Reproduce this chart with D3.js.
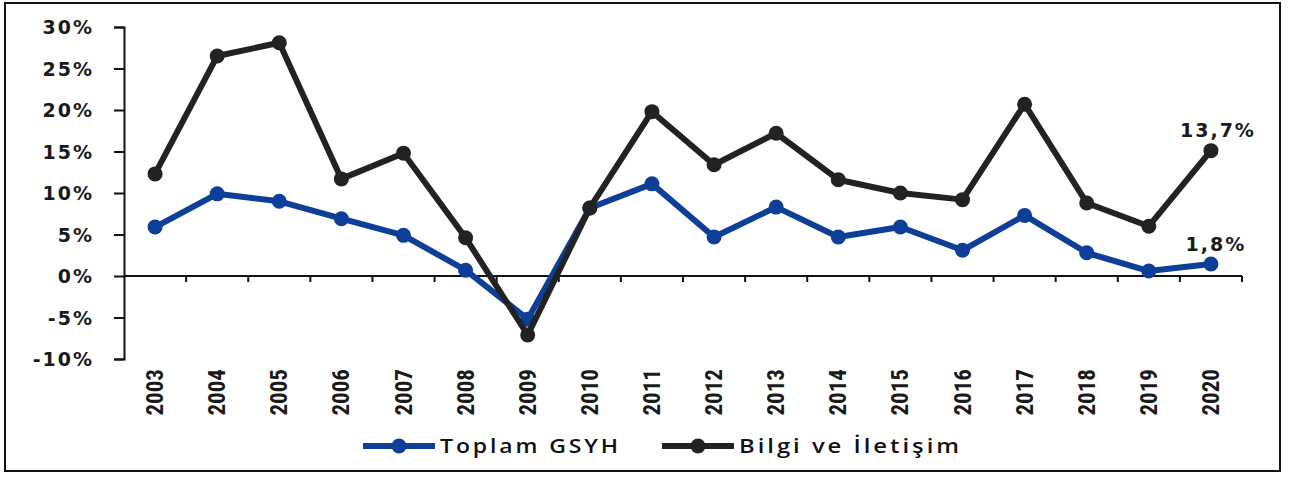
<!DOCTYPE html>
<html>
<head>
  <meta charset="utf-8">
  <title>Toplam GSYH ve Bilgi ve İletişim</title>
  <style>
    body { margin: 0; background: #fff; }
    .ytick { font: bold 19px "DejaVu Sans", sans-serif; letter-spacing: 2px; fill: #1a1a1a; }
    .xtick { font: bold 23px "Liberation Sans Narrow", "Roboto Condensed", sans-serif; fill: #1a1a1a; }
    .lbl { font: bold 19px "DejaVu Sans", sans-serif; letter-spacing: 2px; fill: #1a1a1a; }
    .leg { font: 600 20px "Open Sans", sans-serif; letter-spacing: 2.5px; fill: #111; }
  </style>
</head>
<body>
  <script src="https://d3js.org/d3.v7.min.js"></script>
  <script>
// data
var years = ["2003","2004","2005","2006","2007","2008","2009","2010","2011","2012","2013","2014","2015","2016","2017","2018","2019","2020"];
var gsyh  = [5.9, 9.9, 9.0, 6.9, 4.9, 0.7, -5.2, 8.2, 11.1, 4.7, 8.3, 4.7, 5.9, 3.1, 7.3, 2.8, 0.6, 1.45];
var bilgi = [12.3, 26.5, 28.1, 11.7, 14.8, 4.6, -7.1, 8.2, 19.8, 13.4, 17.2, 11.6, 10.0, 9.2, 20.7, 8.8, 6.0, 15.1];
var yTicks = [-10, -5, 0, 5, 10, 15, 20, 25, 30];
var seriesNames = ["Toplam GSYH", "Bilgi ve İletişim"];
var endLabels = ["1,8%", "13,7%"];

var W = 1293, H = 477;
var svg = d3.select("body").append("svg")
  .attr("width", W)
  .attr("height", H);

// outer frame
svg.append("rect")
  .attr("x", 5).attr("y", 3)
  .attr("width", 1275).attr("height", 468)
  .attr("fill", "none")
  .attr("stroke", "#111")
  .attr("stroke-width", 2);

var x = d3.scaleBand().domain(years).range([124, 1242]);
var y = d3.scaleLinear().domain([-10, 30]).range([359, 27]);

// y axis
var yAxis = svg.append("g")
  .attr("transform", "translate(124,0)")
  .call(d3.axisLeft(y).tickValues(yTicks).tickSize(10).tickPadding(20)
    .tickFormat(function(d) { return d + "%"; }));
yAxis.select(".domain").attr("stroke", "#111").attr("stroke-width", 2);
yAxis.selectAll(".tick line").attr("stroke", "#111").attr("stroke-width", 2);
yAxis.selectAll("text").attr("class", "ytick").attr("dy", "0.36em");

// x axis at zero
var xAxis = svg.append("g")
  .attr("transform", "translate(0," + y(0) + ")");
xAxis.append("line")
  .attr("x1", 124).attr("x2", 1242)
  .attr("stroke", "#111").attr("stroke-width", 2);
xAxis.selectAll("line.tk")
  .data(years)
  .enter().append("line")
  .attr("class", "tk")
  .attr("x1", function(d) { return x(d) + x.bandwidth(); })
  .attr("x2", function(d) { return x(d) + x.bandwidth(); })
  .attr("y1", 0).attr("y2", 6)
  .attr("stroke", "#111").attr("stroke-width", 2);

// year labels, rotated
svg.selectAll("text.xtick")
  .data(years)
  .enter().append("text")
  .attr("class", "xtick")
  .attr("text-anchor", "end")
  .attr("transform", function(d) {
    return "translate(" + (x(d) + x.bandwidth() / 2 + 8) + ",369) rotate(-90)";
  })
  .text(function(d) { return d; });

var line = d3.line()
  .x(function(d, i) { return x(years[i]) + x.bandwidth() / 2; })
  .y(function(d) { return y(d); });

var colors = ["#0e3f98", "#222222"];
var allSeries = [gsyh, bilgi];

allSeries.forEach(function(s, k) {
  svg.append("path")
    .datum(s)
    .attr("fill", "none")
    .attr("stroke", colors[k])
    .attr("stroke-width", 6)
    .attr("stroke-linejoin", "round")
    .attr("d", line);
  svg.selectAll("circle.s" + k)
    .data(s)
    .enter().append("circle")
    .attr("class", "s" + k)
    .attr("cx", function(d, i) { return x(years[i]) + x.bandwidth() / 2; })
    .attr("cy", function(d) { return y(d); })
    .attr("r", 7.5)
    .attr("fill", colors[k]);
});

// end labels
var last = years.length - 1;
svg.append("text").attr("class", "lbl")
  .attr("x", x(years[last]) + x.bandwidth() / 2 + 5)
  .attr("y", 251)
  .attr("text-anchor", "middle")
  .text(endLabels[0]);
svg.append("text").attr("class", "lbl")
  .attr("x", x(years[last]) + x.bandwidth() / 2 + 7)
  .attr("y", 137)
  .attr("text-anchor", "middle")
  .text(endLabels[1]);

// legend
var legX = [363, 662];
var legW = [181, 223];
seriesNames.forEach(function(name, k) {
  var g = svg.append("g").attr("transform", "translate(" + legX[k] + ",446)");
  g.append("line").attr("x1", 0).attr("x2", 72)
    .attr("stroke", colors[k]).attr("stroke-width", 6);
  g.append("circle").attr("cx", 36).attr("r", 7.5).attr("fill", colors[k]);
  g.append("text").attr("class", "leg")
    .attr("x", 77).attr("y", 7)
    .attr("textLength", legW[k])
    .attr("lengthAdjust", "spacingAndGlyphs")
    .text(name);
});
  </script>
</body>
</html>
